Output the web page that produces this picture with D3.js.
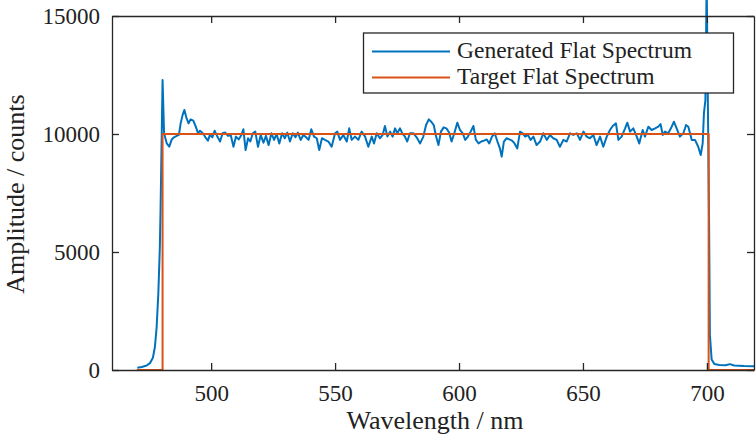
<!DOCTYPE html>
<html>
<head>
  <script src="https://d3js.org/d3.v7.min.js"></script>
  <style>
    body { margin: 0; background: #fff; }
    svg { display: block; }
  </style>
</head>
<body>
  <div id="chart"></div>
  <script>
    // generated spectrum (wavelength in nm, amplitude in counts)
    const genWavelength = [
      470.2, 472.0, 474.0, 475.3, 476.5, 477.3, 478.0, 478.7, 479.3, 479.6,
      480.4, 481.0, 482.1, 483.1, 484.1, 485.0, 486.1, 487.0, 487.7, 488.5,
      489.2, 490.1, 490.9, 491.7, 492.8, 493.8, 494.7, 495.5, 496.6, 497.7,
      498.7, 499.5, 500.5, 501.4, 502.5, 503.6, 504.6, 505.7, 506.8, 507.9,
      509.0, 510.0, 511.1, 512.2, 513.0, 513.9, 514.9, 515.8, 516.8, 517.8,
      518.9, 520.0, 521.1, 522.1, 523.2, 524.3, 525.4, 526.4, 527.5, 528.6,
      529.7, 530.7, 531.8, 532.9, 534.0, 535.0, 536.1, 537.2, 538.3, 539.3,
      540.4, 541.5, 542.6, 543.6, 544.7, 545.9, 547.3, 548.6, 550.0, 550.9,
      552.0, 553.3, 554.7, 555.7, 556.7, 558.0, 559.4, 560.7, 562.1, 563.4,
      564.8, 565.7, 566.8, 568.1, 569.2, 570.1, 571.1, 572.2, 573.2, 574.2,
      575.1, 576.2, 577.1, 578.2, 579.1, 580.2, 581.6, 582.9, 584.3, 585.6,
      586.7, 587.8, 588.8, 589.8, 590.6, 591.7, 592.7, 593.8, 594.9, 596.0,
      597.0, 598.1, 599.3, 600.4, 601.5, 602.5, 603.6, 604.7, 605.8, 606.8,
      607.9, 609.0, 610.1, 611.2, 612.2, 613.3, 614.4, 615.5, 616.5, 617.2,
      618.1, 619.2, 620.3, 621.4, 622.4, 623.5, 624.6, 625.7, 626.7, 627.8,
      628.9, 630.0, 631.3, 632.7, 634.0, 635.4, 636.7, 638.0, 639.4, 640.7,
      642.1, 643.4, 644.8, 646.1, 647.5, 648.8, 650.2, 651.5, 652.8, 654.2,
      655.5, 656.9, 658.2, 659.6, 660.9, 662.0, 663.3, 664.3, 665.6, 667.0,
      667.9, 669.0, 670.3, 671.7, 672.7, 674.1, 675.0, 676.4, 677.7, 679.1,
      680.4, 681.3, 682.2, 683.1, 684.4, 685.8, 686.7, 687.8, 689.1, 690.5,
      691.6, 692.5, 693.9, 695.2, 696.5, 697.5, 698.3, 698.8, 699.4, 699.9,
      700.9, 701.2, 701.9, 703.0, 705.0, 707.5, 709.3, 711.0, 715.0, 719.0
    ];
    const genAmplitude = [
      100, 130, 190, 290, 520, 970, 1800, 3260, 5200, 6860,
      12290, 10030, 9600, 9460, 9770, 9860, 9920, 9960, 10450, 10810,
      11020, 10660, 10450, 10620, 10570, 10310, 10030, 10140, 10030, 9860,
      9720, 9960, 9860, 10140, 9890, 9680, 10030, 10060, 9920, 9960,
      9460, 9890, 9770, 9960, 10200, 9320, 9820, 9680, 10030, 10100,
      9460, 9960, 9630, 9920, 9530, 10030, 9750, 10000, 9600, 10030,
      9820, 10060, 9680, 10030, 9860, 10060, 9750, 9960, 9860, 9750,
      10200, 9890, 9820, 9320, 9820, 9750, 9680, 9460, 10030, 10100,
      9750, 9960, 9680, 10240, 9750, 9890, 9750, 10100, 9890, 9460,
      9890, 9600, 10030, 9820, 9960, 10340, 9890, 10100, 9890, 10240,
      10030, 10240, 10030, 9890, 9680, 10030, 10030, 9860, 9600, 9890,
      10380, 10620, 10520, 10380, 9960, 9530, 10100, 10280, 10240, 10060,
      9680, 10030, 10480, 10170, 10030, 9750, 9890, 10100, 10340, 9750,
      9600, 9680, 9720, 9770, 9600, 9890, 10030, 9680, 9390, 9040,
      9680, 9820, 9770, 9720, 9600, 9390, 10100, 10030, 9890, 9960,
      9750, 9890, 9530, 9680, 10030, 9750, 9960, 9820, 9750, 9460,
      9750, 9680, 10030, 9960, 10030, 9750, 10100, 9890, 9820, 9960,
      9530, 9890, 9460, 9890, 10170, 10340, 10450, 9750, 9890, 10240,
      10480, 10100, 10240, 9890, 9600, 10170, 9890, 10310, 10170, 10240,
      10310, 10420, 9960, 10100, 10030, 10310, 10520, 10240, 9890, 10030,
      10380, 10310, 9750, 9750, 9460, 9110, 9600, 10880, 11440, 16500,
      6000, 1500, 450, 250, 210, 200, 250, 190, 170, 160
    ];

    // target flat spectrum
    const targetWavelength = [470, 480.4, 480.4, 700.7, 700.7, 719];
    const targetAmplitude = [0, 0, 10000, 10000, 0, 0];

    const xTicks = [500, 550, 600, 650, 700];
    const yTicks = [0, 5000, 10000, 15000];
    const seriesNames = ['Generated Flat Spectrum', 'Target Flat Spectrum'];
    const seriesColors = ['#0072BD', '#D95319'];

    const width = 756, height = 440;
    const plotLeft = 112, plotRight = 754, plotTop = 16, plotBottom = 370;
    const axisColor = '#262626';
    const textColor = '#222';
    const font = 'Liberation Serif';

    const svg = d3.select('#chart')
      .append('svg')
      .attr('width', width)
      .attr('height', height);

    const x = d3.scaleLinear().domain([460, 719]).range([plotLeft, plotRight]);
    const y = d3.scaleLinear().domain([0, 15000]).range([plotBottom, plotTop]);

    const line = d3.line()
      .x(d => x(d[0]))
      .y(d => y(d[1]));

    const genData = d3.zip(genWavelength, genAmplitude);
    const targetData = d3.zip(targetWavelength, targetAmplitude);

    // data lines (target drawn on top)
    [genData, targetData].forEach((data, i) => {
      svg.append('path')
        .datum(data)
        .attr('fill', 'none')
        .attr('stroke', seriesColors[i])
        .attr('stroke-width', 2)
        .attr('stroke-linejoin', 'round')
        .attr('d', line);
    });

    // axes box with inward ticks
    function styleAxis(g) {
      g.attr('font-family', font).attr('font-size', 23);
      g.select('.domain').attr('stroke', axisColor).attr('stroke-width', 1.3);
      g.selectAll('.tick line').attr('stroke', axisColor).attr('stroke-width', 1.3);
      g.selectAll('.tick text').attr('fill', textColor);
    }

    const fmt = d3.format('d');

    svg.append('g')
      .attr('transform', `translate(0, ${plotBottom})`)
      .call(d3.axisBottom(x).tickValues(xTicks).tickFormat(fmt)
        .tickSizeInner(-7).tickSizeOuter(0).tickPadding(15))
      .call(styleAxis);

    svg.append('g')
      .attr('transform', `translate(0, ${plotTop})`)
      .call(d3.axisTop(x).tickValues(xTicks).tickSizeInner(-7).tickSizeOuter(0).tickFormat(''))
      .call(styleAxis);

    svg.append('g')
      .attr('transform', `translate(${plotLeft}, 0)`)
      .call(d3.axisLeft(y).tickValues(yTicks).tickFormat(fmt)
        .tickSizeInner(-7).tickSizeOuter(0).tickPadding(12))
      .call(styleAxis);

    svg.append('g')
      .attr('transform', `translate(${plotRight}, 0)`)
      .call(d3.axisRight(y).tickValues(yTicks).tickSizeInner(-7).tickSizeOuter(0).tickFormat(''))
      .call(styleAxis);

    // axis labels
    svg.append('text')
      .attr('x', 435)
      .attr('y', 429)
      .attr('text-anchor', 'middle')
      .attr('font-family', font)
      .attr('font-size', 26)
      .attr('fill', textColor)
      .text('Wavelength / nm');

    svg.append('text')
      .attr('transform', 'translate(24, 194) rotate(-90)')
      .attr('text-anchor', 'middle')
      .attr('font-family', font)
      .attr('font-size', 26)
      .attr('fill', textColor)
      .text('Amplitude / counts');

    // legend
    const legend = svg.append('g');
    legend.append('rect')
      .attr('x', 363.5)
      .attr('y', 33)
      .attr('width', 370)
      .attr('height', 60)
      .attr('fill', '#fff')
      .attr('stroke', axisColor)
      .attr('stroke-width', 1.3);

    seriesNames.forEach((name, i) => {
      const ly = 51.5 + i * 26;
      legend.append('line')
        .attr('x1', 372).attr('x2', 450)
        .attr('y1', ly).attr('y2', ly)
        .attr('stroke', seriesColors[i])
        .attr('stroke-width', 2);
      legend.append('text')
        .attr('x', 457)
        .attr('y', ly + 6)
        .attr('font-family', font)
        .attr('font-size', 23.5)
        .attr('fill', textColor)
        .text(name);
    });
  </script>
</body>
</html>
